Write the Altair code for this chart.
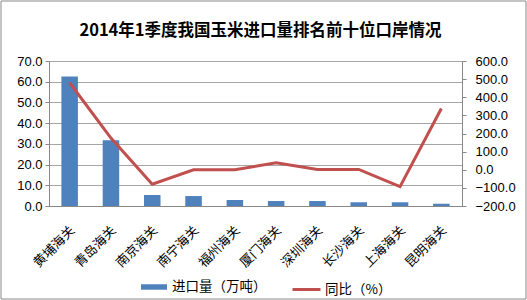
import altair as alt
import pandas as pd

ports = ["黄埔海关", "青岛海关", "南京海关", "南宁海关", "福州海关",
         "厦门海关", "深圳海关", "长沙海关", "上海海关", "昆明海关"]
volume = [62.5, 31.8, 5.3, 4.8, 2.9, 2.4, 2.4, 1.8, 1.8, 1.1]
yoy = [480, 175, -80, 0, 0, 38, 2, 2, -93, 338]

vol_name = "进口量（万吨）"
yoy_name = "同比（%）"

df = pd.DataFrame({"port": ports, "volume": volume, "yoy": yoy,
                   "s1": vol_name, "s2": yoy_name})

W, H = 413, 145
cjk = "Noto Sans CJK SC"
num = "Liberation Sans"

x = alt.X("port:N", sort=ports, title=None,
          scale=alt.Scale(paddingInner=0.6, paddingOuter=0.3),
          axis=alt.Axis(labelAngle=-45, labelAlign="right", labelBaseline="middle",
                        labelFont=cjk, labelFontSize=13, labelColor="#000000",
                        ticks=False, labelPadding=22, labelOffset=3,
                        domainColor="#888888", grid=False))

bars = alt.Chart(df).mark_bar(color="#4F81BD").encode(
    x=x,
    y=alt.Y("volume:Q", title=None,
            scale=alt.Scale(domain=[0, 70], nice=False),
            axis=alt.Axis(values=[0, 10, 20, 30, 40, 50, 60, 70], format=".1f",
                          labelFont=num, labelFontSize=13, labelColor="#000000",
                          tickSize=4, labelPadding=3, domainColor="#888888",
                          tickColor="#888888", gridColor="#A6A6A6")),
    fill=alt.Fill("s1:N", title=None,
                  scale=alt.Scale(domain=[vol_name], range=["#4F81BD"]),
                  legend=alt.Legend(orient="none", legendX=92, legendY=213,
                                    symbolType="M-1,-0.21H1V0.21H-1Z",
                                    symbolSize=676, symbolStrokeWidth=0,
                                    labelFont=cjk, labelFontSize=13.5,
                                    labelColor="#000000", padding=0, labelOffset=5)),
)

line = alt.Chart(df).mark_line(color="#C0504D", strokeWidth=3).encode(
    x=x,
    y=alt.Y("yoy:Q", title=None,
            scale=alt.Scale(domain=[-200, 600], nice=False),
            axis=alt.Axis(orient="right", values=[-200, -100, 0, 100, 200, 300, 400, 500, 600],
                          format=".1f", grid=False,
                          labelFont=num, labelFontSize=13, labelColor="#000000",
                          tickSize=4, labelPadding=9, domainColor="#888888",
                          tickColor="#888888")),
    stroke=alt.Stroke("s2:N", title=None,
                      scale=alt.Scale(domain=[yoy_name], range=["#C0504D"]),
                      legend=alt.Legend(orient="none", legendX=242, legendY=213,
                                        symbolType="stroke", symbolSize=784,
                                        symbolStrokeWidth=3,
                                        labelFont=cjk, labelFontSize=13.5,
                                        labelColor="#000000", padding=0, labelOffset=3)),
)

border = alt.Chart(df).mark_rect(fill=None, stroke="#888888", strokeWidth=1).encode(
    x=alt.value(-48), x2=alt.value(W + 64), y=alt.value(-60), y2=alt.value(H + 93)
).transform_filter("datum.port == '黄埔海关'")

chart = alt.layer(bars, line, border).resolve_scale(
    y="independent", fill="independent", stroke="independent"
).properties(
    width=W, height=H,
    padding={"left": 49, "top": 61, "right": 65, "bottom": 94},
    autosize=alt.AutoSizeParams(type="none"),
    title=alt.TitleParams("2014年1季度我国玉米进口量排名前十位口岸情况",
                          font=cjk, fontSize=16.5, fontWeight="bold",
                          color="#000000", anchor="middle", offset=-39, dx=5),
).configure_view(stroke=None).configure(background="white")

chart.save("out.html", embed_options={"renderer": "svg", "actions": False})
